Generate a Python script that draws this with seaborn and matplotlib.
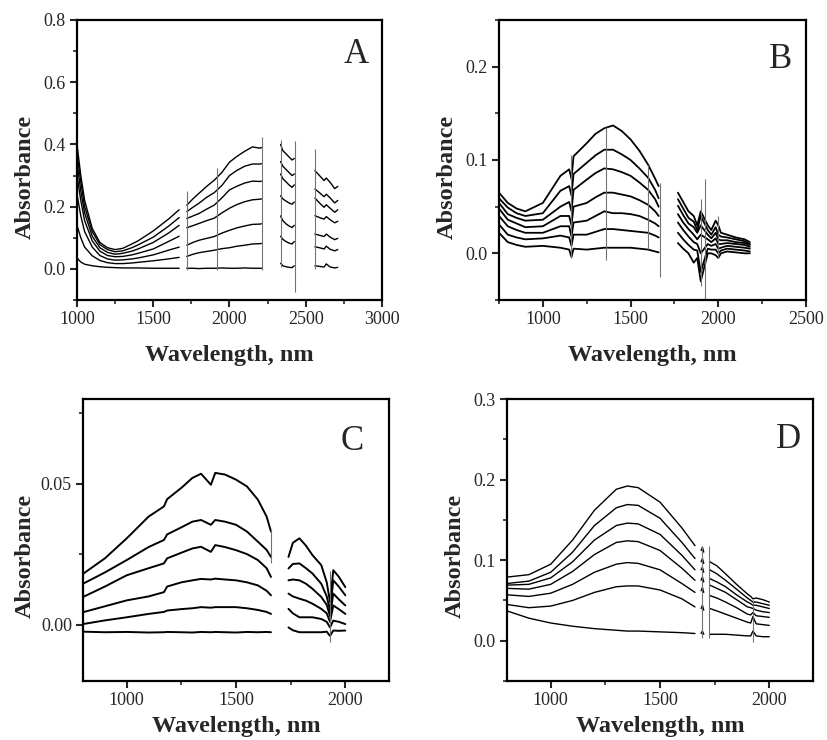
import numpy as np
import pandas as pd
import matplotlib
matplotlib.use("Agg")
import matplotlib.pyplot as plt
import seaborn as sns
from matplotlib.ticker import MultipleLocator, FormatStrFormatter

# ---- Panel A: 4 segments, 7 spectra each ----
A_wl1 = [1000, 1025, 1050, 1100, 1150, 1200, 1250, 1300, 1360, 1400, 1500, 1600, 1670]
A_seg1 = [
    [0.400, 0.300, 0.220, 0.130, 0.085, 0.068, 0.062, 0.066, 0.080, 0.090, 0.122, 0.160, 0.190],
    [0.370, 0.280, 0.200, 0.120, 0.078, 0.062, 0.055, 0.058, 0.068, 0.077, 0.102, 0.137, 0.165],
    [0.340, 0.250, 0.180, 0.105, 0.068, 0.053, 0.047, 0.050, 0.057, 0.064, 0.085, 0.115, 0.140],
    [0.300, 0.220, 0.155, 0.090, 0.057, 0.043, 0.039, 0.040, 0.045, 0.050, 0.064, 0.088, 0.105],
    [0.240, 0.170, 0.120, 0.070, 0.043, 0.032, 0.028, 0.029, 0.032, 0.035, 0.045, 0.060, 0.070],
    [0.140, 0.100, 0.070, 0.042, 0.027, 0.020, 0.017, 0.017, 0.019, 0.021, 0.026, 0.032, 0.037],
    [0.035, 0.022, 0.015, 0.010, 0.007, 0.005, 0.004, 0.003, 0.003, 0.003, 0.002, 0.002, 0.002],
]
A_wl2 = [1720, 1760, 1800, 1850, 1900, 1950, 2000, 2050, 2100, 2150, 2200, 2210]
A_seg2 = [
    [0.205, 0.225, 0.243, 0.265, 0.285, 0.310, 0.343, 0.362, 0.378, 0.392, 0.388, 0.390],
    [0.184, 0.198, 0.211, 0.230, 0.245, 0.268, 0.300, 0.317, 0.330, 0.337, 0.337, 0.338],
    [0.162, 0.170, 0.178, 0.192, 0.205, 0.228, 0.254, 0.266, 0.276, 0.282, 0.281, 0.282],
    [0.132, 0.139, 0.146, 0.155, 0.163, 0.180, 0.195, 0.207, 0.216, 0.222, 0.224, 0.225],
    [0.076, 0.085, 0.092, 0.098, 0.104, 0.115, 0.124, 0.132, 0.138, 0.143, 0.144, 0.145],
    [0.040, 0.047, 0.052, 0.056, 0.060, 0.065, 0.068, 0.073, 0.076, 0.080, 0.081, 0.082],
    [0.002, 0.002, 0.001, 0.002, 0.002, 0.003, 0.002, 0.002, 0.003, 0.002, 0.002, 0.002],
]
A_wl3 = [2335, 2350, 2370, 2390, 2410, 2425]
A_seg3 = [
    [0.400, 0.380, 0.370, 0.360, 0.350, 0.355],
    [0.345, 0.330, 0.320, 0.310, 0.300, 0.305],
    [0.305, 0.290, 0.280, 0.270, 0.262, 0.270],
    [0.235, 0.225, 0.218, 0.212, 0.208, 0.215],
    [0.170, 0.155, 0.145, 0.138, 0.133, 0.140],
    [0.105, 0.095, 0.088, 0.083, 0.080, 0.088],
    [0.018, 0.010, 0.007, 0.005, 0.004, 0.010],
]
A_wl4 = [2560, 2590, 2620, 2635, 2660, 2690, 2710]
A_seg4 = [
    [0.316, 0.300, 0.284, 0.292, 0.278, 0.258, 0.265],
    [0.257, 0.245, 0.232, 0.240, 0.228, 0.212, 0.220],
    [0.228, 0.212, 0.198, 0.206, 0.195, 0.182, 0.190],
    [0.171, 0.165, 0.160, 0.168, 0.158, 0.148, 0.153],
    [0.112, 0.108, 0.104, 0.112, 0.102, 0.094, 0.098],
    [0.071, 0.068, 0.064, 0.073, 0.063, 0.058, 0.062],
    [0.010, 0.008, 0.006, 0.016, 0.006, 0.003, 0.005],
]
A_spike_wl = [1720, 1920, 2210, 2335, 2430, 2560]
A_spike_lo = [-0.005, -0.005, -0.002, 0.005, -0.075, 0.000]
A_spike_hi = [0.250, 0.325, 0.425, 0.415, 0.410, 0.385]

# ---- Panel B ----
B_wl1 = [750, 800, 850, 900, 1000, 1100, 1150, 1163, 1175, 1250, 1300, 1350,
         1400, 1450, 1500, 1550, 1600, 1640, 1660]
B_seg1 = [
    [0.065, 0.054, 0.048, 0.045, 0.054, 0.083, 0.090, 0.080, 0.104, 0.118, 0.128, 0.134, 0.137, 0.131, 0.122, 0.110, 0.095, 0.080, 0.072],
    [0.059, 0.049, 0.043, 0.040, 0.043, 0.067, 0.072, 0.062, 0.085, 0.097, 0.105, 0.111, 0.111, 0.106, 0.100, 0.091, 0.081, 0.068, 0.059],
    [0.054, 0.042, 0.038, 0.035, 0.036, 0.050, 0.055, 0.045, 0.068, 0.079, 0.086, 0.091, 0.090, 0.087, 0.083, 0.076, 0.068, 0.058, 0.050],
    [0.048, 0.036, 0.032, 0.028, 0.029, 0.040, 0.040, 0.030, 0.050, 0.054, 0.060, 0.065, 0.065, 0.063, 0.061, 0.057, 0.052, 0.045, 0.040],
    [0.040, 0.029, 0.025, 0.022, 0.022, 0.029, 0.029, 0.018, 0.033, 0.035, 0.040, 0.045, 0.043, 0.043, 0.042, 0.040, 0.036, 0.032, 0.029],
    [0.031, 0.020, 0.017, 0.015, 0.016, 0.019, 0.017, 0.008, 0.020, 0.020, 0.023, 0.026, 0.026, 0.025, 0.024, 0.023, 0.022, 0.019, 0.017],
    [0.022, 0.012, 0.009, 0.007, 0.008, 0.006, 0.004, -0.004, 0.005, 0.004, 0.005, 0.006, 0.006, 0.006, 0.006, 0.005, 0.004, 0.002, 0.001],
]
B_wl2 = [1770, 1800, 1830, 1860, 1880, 1900, 1940, 1960, 1985, 2000, 2015, 2050, 2100, 2150, 2180]
B_seg2 = [
    [0.065, 0.055, 0.045, 0.040, 0.030, 0.045, 0.030, 0.025, 0.035, 0.030, 0.022, 0.020, 0.017, 0.015, 0.012],
    [0.058, 0.048, 0.038, 0.034, 0.025, 0.040, 0.025, 0.020, 0.028, 0.020, 0.018, 0.017, 0.015, 0.013, 0.010],
    [0.051, 0.041, 0.032, 0.028, 0.022, 0.030, 0.020, 0.016, 0.022, 0.015, 0.014, 0.014, 0.012, 0.011, 0.009],
    [0.042, 0.033, 0.026, 0.020, 0.015, 0.020, 0.015, 0.012, 0.016, 0.010, 0.010, 0.011, 0.010, 0.009, 0.007],
    [0.033, 0.025, 0.018, 0.012, 0.010, 0.000, 0.010, 0.008, 0.010, 0.005, 0.006, 0.008, 0.007, 0.006, 0.005],
    [0.022, 0.015, 0.009, 0.004, 0.003, -0.020, 0.005, 0.004, 0.004, 0.000, 0.003, 0.005, 0.004, 0.003, 0.002],
    [0.011, 0.005, 0.000, -0.010, -0.005, -0.030, 0.000, 0.000, -0.002, -0.005, 0.000, 0.002, 0.001, 0.000, 0.000],
]
B_spike_wl = [1163, 1360, 1600, 1665, 1900, 1922, 2000]
B_spike_lo = [-0.005, -0.007, 0.005, -0.025, -0.035, -0.050, -0.005]
B_spike_hi = [0.105, 0.135, 0.095, 0.075, 0.058, 0.080, 0.040]

# ---- Panel C: 6 spectra ----
C_wl1 = [800, 900, 1000, 1100, 1170, 1185, 1250, 1300, 1340, 1385, 1405, 1450,
         1500, 1550, 1600, 1640, 1660]
C_seg1 = [
    [0.0180, 0.0235, 0.0306, 0.0383, 0.0419, 0.0445, 0.0485, 0.0520, 0.0535, 0.0496, 0.0538, 0.0532, 0.0514, 0.0490, 0.0443, 0.0383, 0.0330],
    [0.0145, 0.0185, 0.0229, 0.0275, 0.0300, 0.0320, 0.0345, 0.0365, 0.0371, 0.0354, 0.0371, 0.0365, 0.0354, 0.0330, 0.0294, 0.0265, 0.0240],
    [0.0098, 0.0135, 0.0175, 0.0200, 0.0217, 0.0235, 0.0255, 0.0270, 0.0276, 0.0258, 0.0282, 0.0275, 0.0264, 0.0250, 0.0229, 0.0200, 0.0169],
    [0.0044, 0.0065, 0.0086, 0.0100, 0.0115, 0.0135, 0.0150, 0.0157, 0.0162, 0.0160, 0.0163, 0.0160, 0.0157, 0.0150, 0.0139, 0.0120, 0.0104],
    [0.0002, 0.0015, 0.0026, 0.0038, 0.0045, 0.0050, 0.0055, 0.0058, 0.0062, 0.0060, 0.0062, 0.0062, 0.0062, 0.0058, 0.0052, 0.0045, 0.0038],
    [-0.0025, -0.0027, -0.0026, -0.0028, -0.0027, -0.0026, -0.0027, -0.0028, -0.0026, -0.0027, -0.0026, -0.0027, -0.0028, -0.0026, -0.0027, -0.0026, -0.0027],
]
C_wl2 = [1740, 1760, 1790, 1820, 1850, 1890, 1915, 1930, 1945, 1970, 2000]
C_seg2 = [
    [0.0240, 0.0290, 0.0306, 0.0280, 0.0246, 0.0211, 0.0150, 0.0080, 0.0193, 0.0170, 0.0133],
    [0.0199, 0.0215, 0.0217, 0.0200, 0.0181, 0.0145, 0.0100, 0.0050, 0.0157, 0.0135, 0.0104],
    [0.0157, 0.0160, 0.0157, 0.0145, 0.0127, 0.0098, 0.0070, 0.0030, 0.0110, 0.0090, 0.0068],
    [0.0110, 0.0100, 0.0092, 0.0085, 0.0074, 0.0056, 0.0040, 0.0010, 0.0068, 0.0055, 0.0038],
    [0.0056, 0.0040, 0.0026, 0.0026, 0.0026, 0.0020, 0.0010, -0.0010, 0.0014, 0.0010, 0.0002],
    [-0.0010, -0.0020, -0.0027, -0.0027, -0.0027, -0.0027, -0.0025, -0.0040, -0.0021, -0.0022, -0.0021],
]
C_spike_wl = [1662, 1930]
C_spike_lo = [0.022, -0.006]
C_spike_hi = [0.034, 0.019]

# ---- Panel D: 7 spectra ----
D_wl1 = [800, 900, 1000, 1100, 1200, 1300, 1350, 1400, 1500, 1600, 1660]
D_seg1 = [
    [0.079, 0.082, 0.095, 0.125, 0.162, 0.188, 0.192, 0.190, 0.172, 0.140, 0.118],
    [0.071, 0.074, 0.085, 0.110, 0.143, 0.165, 0.169, 0.168, 0.152, 0.122, 0.102],
    [0.069, 0.070, 0.078, 0.098, 0.125, 0.143, 0.146, 0.145, 0.132, 0.106, 0.088],
    [0.065, 0.064, 0.070, 0.086, 0.107, 0.122, 0.124, 0.123, 0.112, 0.090, 0.075],
    [0.057, 0.055, 0.059, 0.070, 0.085, 0.095, 0.097, 0.096, 0.088, 0.071, 0.060],
    [0.045, 0.041, 0.043, 0.050, 0.060, 0.067, 0.068, 0.068, 0.063, 0.052, 0.042],
    [0.037, 0.028, 0.022, 0.018, 0.015, 0.013, 0.012, 0.012, 0.011, 0.010, 0.009],
]
D_wl_mid = [1688, 1694, 1700]
D_seg_mid = [
    [0.112, 0.116, 0.110],
    [0.098, 0.102, 0.096],
    [0.088, 0.091, 0.085],
    [0.075, 0.079, 0.073],
    [0.062, 0.066, 0.060],
    [0.040, 0.044, 0.038],
    [0.009, 0.012, 0.008],
]
D_wl2 = [1728, 1760, 1800, 1850, 1900, 1915, 1925, 1940, 1970, 2000]
D_seg2 = [
    [0.098, 0.093, 0.083, 0.070, 0.058, 0.055, 0.052, 0.053, 0.051, 0.048],
    [0.088, 0.083, 0.075, 0.064, 0.053, 0.050, 0.048, 0.048, 0.046, 0.044],
    [0.077, 0.073, 0.067, 0.057, 0.048, 0.046, 0.044, 0.044, 0.042, 0.040],
    [0.069, 0.065, 0.060, 0.051, 0.042, 0.041, 0.040, 0.038, 0.036, 0.035],
    [0.056, 0.053, 0.048, 0.041, 0.033, 0.032, 0.035, 0.031, 0.030, 0.029],
    [0.040, 0.037, 0.033, 0.028, 0.023, 0.022, 0.030, 0.021, 0.020, 0.019],
    [0.008, 0.008, 0.008, 0.007, 0.006, 0.006, 0.012, 0.006, 0.005, 0.005],
]
D_spike_wl = [1692, 1726, 1925]
D_spike_lo = [0.003, 0.004, -0.002]
D_spike_hi = [0.118, 0.117, 0.050]


def to_long(segments):
    # one row per point, one trace id per (segment, spectrum)
    rows = []
    for s, (wl, curves) in enumerate(segments):
        for c, vals in enumerate(curves):
            for w, v in zip(wl, vals):
                rows.append((w, v, f"{s}_{c}"))
    return pd.DataFrame(rows, columns=["wl", "ab", "trace"])


panels = [
    dict(rect=[0.0931, 0.5946, 0.3688, 0.3784], letter="A", lpos=(0.915, 0.845),
         segs=[(A_wl1, A_seg1), (A_wl2, A_seg2), (A_wl3, A_seg3), (A_wl4, A_seg4)],
         spikes=(A_spike_wl, A_spike_lo, A_spike_hi), lw=1.0,
         xlim=(1000, 3000), ylim=(-0.1, 0.8), ymaj=0.2, ymin=0.1, yfmt="%.1f",
         ylab=(-0.135, 0.44), xlab=(0.5, -0.16)),
    dict(rect=[0.6034, 0.5946, 0.3712, 0.3784], letter="B", lpos=(0.918, 0.83),
         segs=[(B_wl1, B_seg1), (B_wl2, B_seg2)],
         spikes=(B_spike_wl, B_spike_lo, B_spike_hi), lw=1.3,
         xlim=(750, 2500), ylim=(-0.05, 0.25), ymaj=0.1, ymin=0.05, yfmt="%.1f",
         ylab=(-0.135, 0.44), xlab=(0.5, -0.16)),
    dict(rect=[0.1004, 0.0797, 0.3700, 0.3811], letter="C", lpos=(0.879, 0.82),
         segs=[(C_wl1, C_seg1), (C_wl2, C_seg2)],
         spikes=(C_spike_wl, C_spike_lo, C_spike_hi), lw=1.4,
         xlim=(800, 2200), ylim=(-0.02, 0.08), ymaj=0.05, ymin=0.025, yfmt="%.2f",
         ylab=(-0.155, 0.443), xlab=(0.5, -0.125)),
    dict(rect=[0.6131, 0.0797, 0.3700, 0.3811], letter="D", lpos=(0.92, 0.826),
         segs=[(D_wl1, D_seg1), (D_wl_mid, D_seg_mid), (D_wl2, D_seg2)],
         spikes=(D_spike_wl, D_spike_lo, D_spike_hi), lw=1.0,
         xlim=(800, 2200), ylim=(-0.05, 0.3), ymaj=0.1, ymin=0.05, yfmt="%.1f",
         ylab=(-0.135, 0.443), xlab=(0.5, -0.125)),
]

sns.set_style("ticks")
plt.rcParams["font.family"] = ["Liberation Serif", "DejaVu Serif"]

fig = plt.figure(figsize=(8.27, 7.40), dpi=100)

for p in panels:
    ax = fig.add_axes(p["rect"])
    df = to_long(p["segs"])
    sns.lineplot(data=df, x="wl", y="ab", units="trace", estimator=None, sort=False,
                 color="black", linewidth=p["lw"], legend=False, ax=ax)
    sw, lo, hi = p["spikes"]
    ax.vlines(sw, lo, hi, color="0.45", linewidth=0.8)

    ax.set_xlim(*p["xlim"])
    ax.set_ylim(*p["ylim"])
    ax.xaxis.set_major_locator(MultipleLocator(500))
    ax.xaxis.set_minor_locator(MultipleLocator(250))
    ax.yaxis.set_major_locator(MultipleLocator(p["ymaj"]))
    ax.yaxis.set_minor_locator(MultipleLocator(p["ymin"]))
    ax.yaxis.set_major_formatter(FormatStrFormatter(p["yfmt"]))
    ax.xaxis.set_major_formatter(FormatStrFormatter("%d"))
    ax.tick_params(which="major", direction="out", length=5, width=1.5,
                   labelsize=13, pad=3, top=False, right=False)
    ax.tick_params(which="minor", direction="out", length=3, width=1.2,
                   top=False, right=False)
    for sp in ax.spines.values():
        sp.set_linewidth(1.6)
        sp.set_color("black")

    ax.set_xlabel("Wavelength, nm", fontsize=17.5, fontweight="bold")
    ax.set_ylabel("Absorbance", fontsize=17.5, fontweight="bold")
    ax.xaxis.set_label_coords(*p["xlab"])
    ax.yaxis.set_label_coords(*p["ylab"])
    ax.text(p["lpos"][0], p["lpos"][1], p["letter"], transform=ax.transAxes,
            fontsize=25, ha="center", va="baseline")

fig.savefig("out.png", dpi=100)
